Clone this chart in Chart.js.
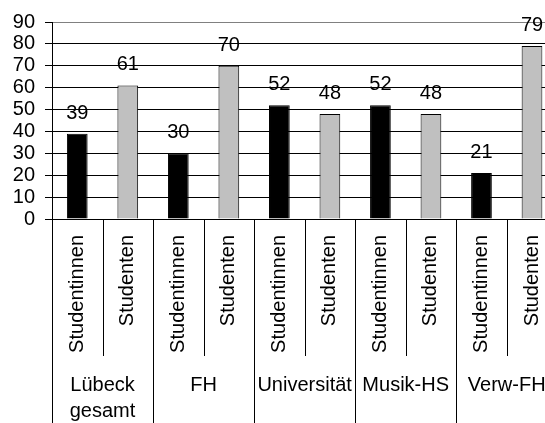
<!DOCTYPE html>
<html>
<head>
<meta charset="utf-8">
<script src="https://cdn.jsdelivr.net/npm/chart.js@4"></script>
<style>
  html, body { margin: 0; padding: 0; background: #fff; overflow: hidden; }
  #wrap { width: 572px; height: 423px; }
</style>
</head>
<body>
<div id="wrap"><canvas id="studis" width="572" height="423"></canvas></div>
<script>
'use strict';
// Data
var groups = [['Lübeck', 'gesamt'], 'FH', 'Universität', 'Musik-HS', 'Verw-FH'];
var subLabels = ['Studentinnen', 'Studenten'];
var studentinnen = [39, 30, 52, 52, 21];
var studenten = [61, 70, 48, 48, 79];

var FONT = 'Liberation Sans';
var FSIZE = 20;

// flatten groups into one bar per sub category
var labels = [];
var values = [];
var colors = [];
groups.forEach(function (g, i) {
  labels.push(subLabels[0], subLabels[1]);
  values.push(studentinnen[i], studenten[i]);
  colors.push('#000000', '#c0c0c0');
});

// numbers above bars
var valueLabels = {
  id: 'valueLabels',
  afterDatasetsDraw: function (chart) {
    var ctx = chart.ctx;
    var meta = chart.getDatasetMeta(0);
    ctx.save();
    ctx.font = FSIZE + 'px "' + FONT + '"';
    ctx.fillStyle = '#000';
    ctx.textAlign = 'center';
    ctx.textBaseline = 'alphabetic';
    meta.data.forEach(function (bar, i) {
      ctx.fillText(values[i], bar.x, bar.y - 15);
    });
    ctx.restore();
  }
};

// divider lines of the two level category axis
var separators = {
  id: 'separators',
  afterDraw: function (chart) {
    var xs = chart.scales.x;
    var ctx = chart.ctx;
    ctx.save();
    ctx.strokeStyle = '#000';
    ctx.lineWidth = 1;
    for (var i = 0; i <= labels.length; i++) {
      var px = Math.round(xs.getPixelForValue(i - 0.5)) + 0.5;
      var bottom = (i % 2 === 0) ? chart.height : xs.bottom;
      ctx.beginPath();
      ctx.moveTo(px, xs.top);
      ctx.lineTo(px, bottom);
      ctx.stroke();
    }
    ctx.restore();
  }
};

var ctx = document.getElementById('studis');
var myBarChart = new Chart(ctx, {
  type: 'bar',
  data: {
    labels: labels,
    datasets: [
      {
        data: values,
        backgroundColor: colors,
        borderColor: '#000',
        borderWidth: 1,
        categoryPercentage: 1,
        barPercentage: 0.41
      }]
  },
  options: {
    responsive: false,
    animation: false,
    devicePixelRatio: 1,
    layout: { padding: { top: 20, left: 0, right: 0, bottom: 0 } },
    plugins: {
      legend: { display: false },
      tooltip: { enabled: false }
    },
    scales: {
      y: {
        min: 0,
        max: 90,
        ticks: {
          stepSize: 10, autoSkip: false, color: '#000', padding: 10,
          font: { family: FONT, size: FSIZE }
        },
        grid: {
          color: function (c) { return c.tick && c.tick.value === 90 ? '#808080' : '#000'; },
          tickColor: '#000',
          tickLength: 7,
          lineWidth: 1
        },
        border: { color: '#000' },
        afterFit: function (s) { s.width = 52; }
      },
      x: {
        type: 'category',
        position: 'bottom',
        offset: true,
        grid: { display: false, drawTicks: false },
        border: { display: false },
        ticks: {
          minRotation: 90, maxRotation: 90, autoSkip: false, padding: 16,
          color: '#000', font: { family: FONT, size: FSIZE }
        },
        afterFit: function (s) { s.height = 137; }
      },
      x2: {
        type: 'category',
        labels: groups,
        position: 'bottom',
        offset: true,
        grid: { display: false, drawTicks: false },
        border: { display: false },
        ticks: {
          maxRotation: 0, minRotation: 0, autoSkip: false, padding: 16,
          color: '#000', font: { family: FONT, size: FSIZE, lineHeight: 1.3 }
        },
        afterFit: function (s) { s.height = 67; }
      }
    }
  },
  plugins: [valueLabels, separators]
});
</script>
</body>
</html>
